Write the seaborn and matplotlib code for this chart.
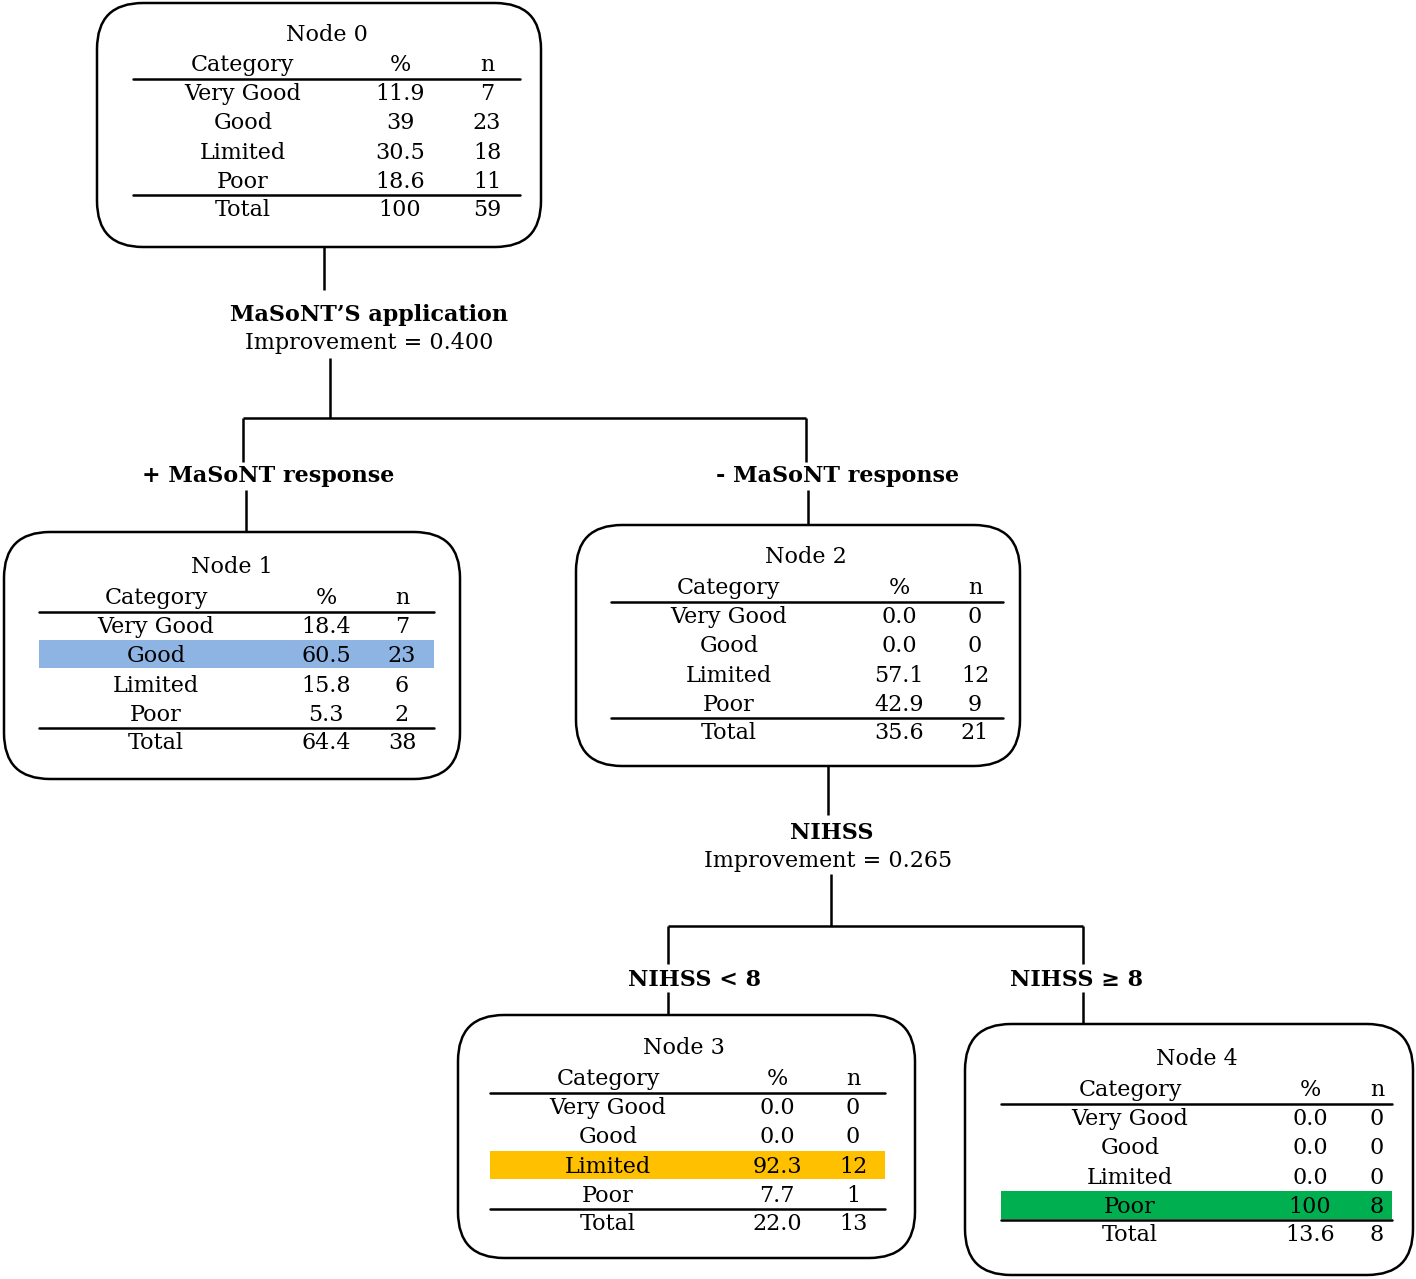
import matplotlib
matplotlib.use("Agg")
import matplotlib.pyplot as plt
from matplotlib.patches import FancyBboxPatch, Rectangle
import seaborn as sns

sns.set_theme(style="white")
plt.rcParams['font.family'] = ['DejaVu Serif', 'Liberation Serif']
plt.rcParams['text.color'] = 'black'

# ---------------- data ----------------
categories = ["Very Good", "Good", "Limited", "Poor"]
node_names = ["Node 0", "Node 1", "Node 2", "Node 3", "Node 4"]
node_pct = [["11.9", "39", "30.5", "18.6"],
            ["18.4", "60.5", "15.8", "5.3"],
            ["0.0", "0.0", "57.1", "42.9"],
            ["0.0", "0.0", "92.3", "7.7"],
            ["0.0", "0.0", "0.0", "100"]]
node_n = [["7", "23", "18", "11"],
          ["7", "23", "6", "2"],
          ["0", "0", "12", "9"],
          ["0", "0", "12", "1"],
          ["0", "0", "0", "8"]]
total_pct = ["100", "64.4", "35.6", "22.0", "13.6"]
total_n = ["59", "38", "21", "13", "8"]
highlight_row = [None, 1, None, 2, 3]
highlight_color = [None, "#8db4e2", None, "#ffc000", "#00b050"]
split1_var = "MaSoNT\u2019S application"
split1_impr = "Improvement = 0.400"
split1_branches = ["+ MaSoNT response", "- MaSoNT response"]
split2_var = "NIHSS"
split2_impr = "Improvement = 0.265"
split2_branches = ["NIHSS < 8", "NIHSS \u2265 8"]

# ---------------- layout (pixel coords) ----------------
W, H = 1416, 1279
fig = plt.figure(figsize=(W / 100, H / 100), dpi=100)
ax = fig.add_axes([0, 0, 1, 1])
ax.set_xlim(0, W)
ax.set_ylim(H, 0)
ax.axis("off")

FS = 16
LW = 1.8
DY = 2

boxes = [
    dict(box=(97, 3, 541, 247), ty=33, tx=327, tl=133, tr=520, cols=(243, 400, 487), hy=63),
    dict(box=(4, 532, 460, 779), ty=565, tx=232, tl=39, tr=434, cols=(156, 326, 402), hy=596),
    dict(box=(576, 525, 1020, 766), ty=555, tx=806, tl=611, tr=1003, cols=(729, 899, 975), hy=586),
    dict(box=(458, 1015, 915, 1258), ty=1046, tx=684, tl=490, tr=885, cols=(608, 777, 853), hy=1077),
    dict(box=(965, 1024, 1413, 1275), ty=1057, tx=1197, tl=1001, tr=1392, cols=(1130, 1310, 1377), hy=1088),
]
ROW = 29.3


def txt(x, y, s, bold=False):
    ax.text(x, y + DY, s, ha="center", va="center", fontsize=FS, color="black",
            fontweight="bold" if bold else "normal", zorder=4)


def draw_node(i):
    b = boxes[i]
    x0, y0, x1, y1 = b["box"]
    ax.add_patch(FancyBboxPatch((x0, y0), x1 - x0, y1 - y0,
                                boxstyle="round,pad=0,rounding_size=46",
                                fc="white", ec="black", lw=LW, zorder=1))
    cc, pc, nc = b["cols"]
    txt(b["tx"], b["ty"], node_names[i])
    hy = b["hy"]
    for x, s in zip((cc, pc, nc), ("Category", "%", "n")):
        txt(x, hy, s)
    line1 = hy + 15.5
    ax.plot([b["tl"], b["tr"]], [line1, line1], color="black", lw=LW, zorder=5)
    first = hy + 29
    for r in range(4):
        y = first + r * ROW
        if highlight_row[i] == r:
            ax.add_patch(Rectangle((b["tl"], y - 14), b["tr"] - b["tl"], 28,
                                   fc=highlight_color[i], ec="none", zorder=2))
        txt(cc, y, categories[r])
        txt(pc, y, node_pct[i][r])
        txt(nc, y, node_n[i][r])
    line2 = first + 3 * ROW + 15.5
    ax.plot([b["tl"], b["tr"]], [line2, line2], color="black", lw=LW, zorder=5)
    yt = line2 + 12.5
    txt(cc, yt, "Total")
    txt(pc, yt, total_pct[i])
    txt(nc, yt, total_n[i])


for i in range(5):
    draw_node(i)


def seg(xs, ys):
    ax.plot(xs, ys, color="black", lw=LW, zorder=3, solid_capstyle="butt")


# split 1
seg([324, 324], [247, 290])
txt(369, 313, split1_var, bold=True)
txt(369, 341, split1_impr)
seg([330, 330], [358, 418])
seg([243, 806], [418, 418])
seg([243, 243], [418, 462])
seg([806, 806], [418, 462])
txt(268, 474, split1_branches[0], bold=True)
txt(838, 474, split1_branches[1], bold=True)
seg([246, 246], [490, 532])
seg([808, 808], [490, 525])

# split 2
seg([828, 828], [766, 815])
txt(832, 831, split2_var, bold=True)
txt(828, 859, split2_impr)
seg([831, 831], [874, 926])
seg([668, 1083], [926, 926])
seg([668, 668], [926, 964])
seg([1083, 1083], [926, 964])
txt(695, 978, split2_branches[0], bold=True)
txt(1077, 978, split2_branches[1], bold=True)
seg([668, 668], [992, 1015])
seg([1083, 1083], [992, 1024])

fig.savefig("out.png", dpi=100, facecolor="white")
